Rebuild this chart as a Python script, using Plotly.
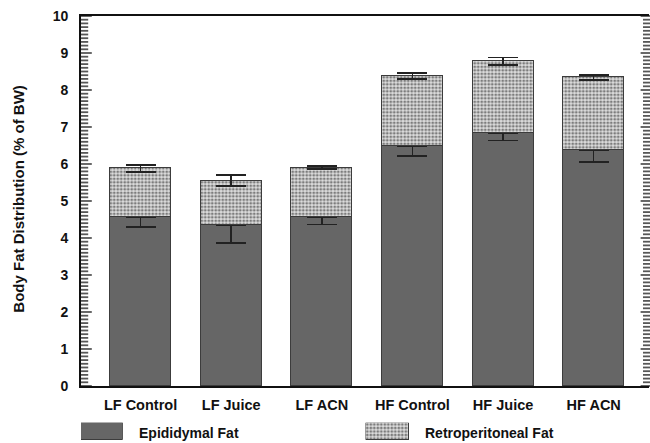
import plotly.graph_objects as go

# Group labels and stacked fat-pad values (% of body weight)
groups = ["LF Control", "LF Juice", "LF ACN", "HF Control", "HF Juice", "HF ACN"]
epididymal = [4.56, 4.34, 4.57, 6.49, 6.84, 6.38]
epididymal_err = [0.26, 0.48, 0.20, 0.27, 0.21, 0.33]
retroperitoneal = [1.32, 1.21, 1.33, 1.89, 1.94, 1.96]
retroperitoneal_err = [0.09, 0.15, 0.04, 0.08, 0.10, 0.07]
series_names = ["Epididymal Fat", "Retroperitoneal Fat"]
y_max = 10

# comb of ticks every 0.1, labelled at whole numbers only
tick_pos = [round(i * 0.1, 1) for i in range(y_max * 10 + 1)]
is_major = [abs(v - round(v)) < 1e-9 for v in tick_pos]
tick_txt = [(f"{int(v)}\u00a0\u00a0" if m else "") for v, m in zip(tick_pos, is_major)]

FONT = "Liberation Sans, Arial, sans-serif"
DARK = "#666666"
OUTLINE = "#3c3c3c"
INK = "#111111"
PLOT_W = 568          # plot-area width in px
Y_DOMAIN = [0.1274, 1]
LEFT_LEN = (9, 6)     # major / minor tick length, px
RIGHT_LEN = (7, 5)

dark_marker = dict(color=DARK, line=dict(color=OUTLINE, width=1))
dotted_marker = dict(
    color="#cccccc",
    line=dict(color=OUTLINE, width=1),
    pattern=dict(shape=".", size=3.5, solidity=0.5,
                 fgcolor="#7c7c7c", bgcolor="#dedede", fillmode="replace"),
)
err_style = dict(type="data", visible=True, color="#222222", thickness=1.5, width=15)

fig = go.Figure()
fig.add_bar(x=groups, y=epididymal, name=series_names[0], marker=dark_marker,
            width=0.673, showlegend=False,
            error_y=dict(array=[0] * len(groups), arrayminus=epididymal_err,
                         symmetric=False, **err_style))
fig.add_bar(x=groups, y=retroperitoneal, name=series_names[1], marker=dotted_marker,
            width=0.673, showlegend=False,
            error_y=dict(array=retroperitoneal_err, symmetric=True, **err_style))

# legend keys drawn as bars on their own small hidden axes
for i, (nm, mk) in enumerate(zip(series_names, [dark_marker, dotted_marker])):
    ax = i + 3
    fig.add_bar(x=[nm], y=[1], width=1, marker=mk, showlegend=False,
                hoverinfo="skip", xaxis=f"x{ax}", yaxis=f"y{ax}")

# inward tick combs on both vertical edges, as horizontal line markers in thin strips
left_sizes = [LEFT_LEN[0] if m else LEFT_LEN[1] for m in is_major]
right_sizes = [RIGHT_LEN[0] if m else RIGHT_LEN[1] for m in is_major]
fig.add_scatter(x=[s / 2 for s in left_sizes], y=tick_pos, xaxis="x5", yaxis="y5",
                mode="markers", showlegend=False, hoverinfo="skip", cliponaxis=False,
                marker=dict(symbol="line-ew", size=left_sizes,
                            line=dict(color=INK, width=1.8)))
fig.add_scatter(x=[RIGHT_LEN[0] - s / 2 for s in right_sizes], y=tick_pos,
                xaxis="x6", yaxis="y6", mode="markers", showlegend=False,
                hoverinfo="skip", cliponaxis=False,
                marker=dict(symbol="line-ew", size=right_sizes,
                            line=dict(color=INK, width=1.8)))

strip_y = dict(domain=Y_DOMAIN, range=[0, y_max], visible=False)

fig.update_layout(
    width=650, height=443,
    margin=dict(l=81, r=1, t=16, b=3, autoexpand=False),
    paper_bgcolor="white", plot_bgcolor="rgba(0,0,0,0)",
    barmode="stack", bargap=0,
    font=dict(family=FONT, color=INK),
    xaxis=dict(range=[-0.657, 5.61], showline=True, linecolor=INK, linewidth=2,
               mirror=True, ticks="outside", ticklen=5, tickcolor="rgba(0,0,0,0)",
               showgrid=False, zeroline=False, automargin=False,
               tickfont=dict(family=FONT, size=14.5, weight="bold")),
    yaxis=dict(domain=Y_DOMAIN, range=[0, y_max], tickmode="array",
               tickvals=tick_pos, ticktext=tick_txt,
               showline=True, linecolor=INK, linewidth=2, ticks="",
               showgrid=False, zeroline=False, automargin=False,
               tickfont=dict(family=FONT, size=14, weight="bold")),
    xaxis3=dict(domain=[0, 0.0734], anchor="y3", visible=False, range=[-0.5, 0.5]),
    yaxis3=dict(domain=[0, 0.0408], anchor="x3", visible=False, range=[0, 1]),
    xaxis4=dict(domain=[0.501, 0.5775], anchor="y4", visible=False, range=[-0.5, 0.5]),
    yaxis4=dict(domain=[0, 0.0408], anchor="x4", visible=False, range=[0, 1]),
    xaxis5=dict(domain=[0, LEFT_LEN[0] / PLOT_W], anchor="y5", visible=False,
                range=[0, LEFT_LEN[0]]),
    yaxis5=dict(anchor="x5", **strip_y),
    xaxis6=dict(domain=[1 - RIGHT_LEN[0] / PLOT_W, 1], anchor="y6", visible=False,
                range=[0, RIGHT_LEN[0]]),
    yaxis6=dict(anchor="x6", **strip_y),
    annotations=[
        dict(text="Body Fat Distribution (% of BW)", textangle=-90,
             xref="paper", yref="paper", x=-0.109, y=0.567,
             xanchor="center", yanchor="middle", showarrow=False,
             font=dict(family=FONT, size=15, weight="bold")),
        dict(text=series_names[0], xref="paper", yref="paper", x=0.0986, y=0.0165,
             xanchor="left", yanchor="middle", showarrow=False,
             font=dict(family=FONT, size=14, weight="bold")),
        dict(text=series_names[1], xref="paper", yref="paper", x=0.602, y=0.0165,
             xanchor="left", yanchor="middle", showarrow=False,
             font=dict(family=FONT, size=14, weight="bold")),
    ],
)

fig.write_html("out.html")
